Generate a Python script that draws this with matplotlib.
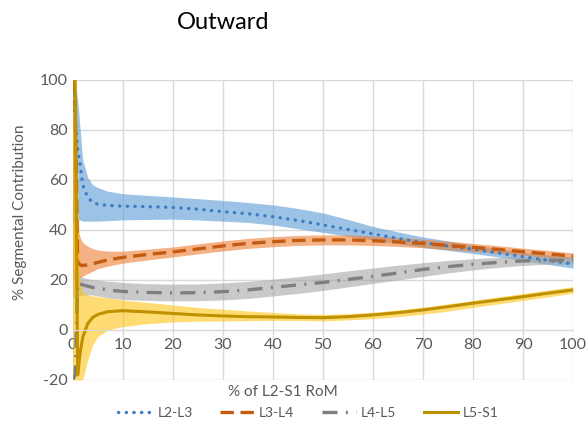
import matplotlib
matplotlib.use("Agg")
import matplotlib.pyplot as plt

plt.rcParams['font.family'] = ['Lato', 'DejaVu Sans']
plt.rcParams['axes.unicode_minus'] = False

# % of L2-S1 RoM
x = [0, 0.5, 1, 1.5, 2, 3, 4, 5, 7, 10, 15, 20, 25, 30, 35, 40, 45, 50,
     55, 60, 65, 70, 75, 80, 85, 90, 95, 100]

# L2-L3
l23 = [100, 85, 72, 66, 58, 53, 51, 50.3, 49.8, 49.5, 49.3, 49, 48.3, 47.3,
       46.5, 45.3, 43.8, 42, 40.2, 38.4, 36.6, 34.9, 33.6, 32.3, 30.8, 29.3, 27.8, 26.4]
l23_hi = [100, 100, 92, 80, 68, 61, 58, 57, 55.5, 54.5, 53.8, 53.2, 52.5, 51.8,
          51, 50, 48.6, 46.8, 44.2, 41.4, 39.2, 37.2, 35.6, 34, 32.5, 31, 30, 29]
l23_lo = [43, 43, 44, 44, 43.5, 43.5, 43.5, 43.5, 43.7, 44, 44.2, 44.3, 44, 43.5,
          43, 42, 40.5, 39, 37.5, 36, 34.5, 33, 31.8, 30.6, 29.2, 27.7, 26.2, 24.7]

# L3-L4
l34 = [100, 90, 27, 26, 25.8, 26, 26.5, 27, 28, 29, 30.2, 31.2, 32.4, 33.6,
       34.6, 35.3, 35.8, 36, 36, 35.7, 35.2, 34.6, 33.8, 33, 32.2, 31.3, 30.4, 29.5]
l34_hi = [100, 100, 40, 37, 35, 33.5, 32.5, 32, 31.5, 31.5, 32.3, 33.2, 34.4, 35.6,
          36.6, 37.3, 37.8, 38, 38, 37.6, 37, 36.3, 35.5, 34.6, 33.7, 32.7, 31.8, 30.8]
l34_lo = [20, 20, 20, 21, 21.5, 22.5, 23.5, 24.5, 25.5, 26.7, 28, 29.2, 30.4, 31.6,
          32.6, 33.3, 33.8, 34, 34, 33.8, 33.4, 32.9, 32.1, 31.4, 30.7, 29.9, 29, 28.2]

# L4-L5
l45 = [-20, -18, 19, 18.5, 18, 17.5, 17, 16.8, 16, 15.4, 15, 14.8, 14.9, 15.3,
       16, 17, 18, 19, 20.2, 21.4, 22.8, 24.2, 25.3, 26.3, 27, 27.6, 27.9, 27.8]
l45_hi = [23, 23, 22.5, 21.5, 21, 20.5, 20.2, 20, 19.5, 19, 18.5, 18.3, 18.4, 18.8,
          19.4, 20.3, 21.3, 22.4, 23.6, 24.8, 25.9, 26.9, 27.8, 28.5, 29, 29.4, 29.4, 29.2]
l45_lo = [13, 13, 13, 13.5, 14, 14, 14, 13.6, 12.8, 12.2, 11.8, 11.6, 11.7, 12,
          12.6, 13.6, 14.6, 15.8, 17.2, 18.6, 20, 21.4, 22.8, 24, 25, 25.8, 26.3, 26.3]

# L5-S1
l5s1 = [100, 100, -18, -9, -3, 2.5, 5, 6.2, 7.3, 7.7, 7.2, 6.6, 6, 5.6,
        5.3, 5.2, 5, 4.9, 5.3, 6, 6.9, 8, 9.3, 10.7, 12, 13.3, 14.7, 16]
l5s1_hi = [100, 100, 60, 20, 15, 14, 13.6, 13.3, 12.8, 12, 11, 10, 9, 8.3,
           7.6, 7, 6.5, 6.2, 6.5, 7.1, 8, 9.1, 10.4, 11.8, 13.2, 14.6, 16, 17.3]
l5s1_lo = [-20, -20, -20, -20, -20, -12, -6, -2.7, 0, 1.3, 2.5, 3.2, 3.5, 3.6,
           3.7, 3.8, 3.8, 3.6, 4, 4.5, 5.3, 6.3, 7.5, 9, 10.4, 11.8, 13.2, 14.7]

fig = plt.figure(figsize=(5.88, 4.25), dpi=100)
ax = fig.add_axes([0.1236, 0.106, 0.851, 0.706])

ax.fill_between(x, l23_lo, l23_hi, color='#5B9BD5', alpha=0.6, lw=0)
ax.fill_between(x, l34_lo, l34_hi, color='#ED7D31', alpha=0.6, lw=0)
ax.fill_between(x, l45_lo, l45_hi, color='#A5A5A5', alpha=0.6, lw=0)
ax.fill_between(x, l5s1_lo, l5s1_hi, color='#FFC000', alpha=0.55, lw=0)

ax.plot(x, l23, color='#3F7CC6', lw=2.4, linestyle=(0, (0.1, 2.2)),
        dash_capstyle='round', label='L2-L3')
ax.plot(x, l34, color='#C55A11', lw=2.4, linestyle=(0, (4, 2)), label='L3-L4')
ax.plot(x, l45, color='#7F7F7F', lw=2.4, linestyle=(0, (4.5, 2.5, 0.6, 2.5)),
        label='L4-L5')
ax.plot(x, l5s1, color='#BF9000', lw=2.2, label='L5-S1')

ax.set_xlim(0, 100)
ax.set_ylim(-20, 100)
ax.set_xticks(range(0, 101, 10))
ax.set_yticks(range(-20, 101, 20))
ax.grid(True, color='#D9D9D9', lw=1)
ax.set_axisbelow(True)
for s in ['top', 'right', 'left']:
    ax.spines[s].set_visible(False)
ax.spines['bottom'].set_position(('data', 0))
ax.spines['bottom'].set_color('#D9D9D9')
ax.tick_params(length=0, labelsize=11.5, labelcolor='#595959')
ax.tick_params(axis='x', pad=6)

fig.text(0.38, 0.948, 'Outward', fontsize=17, ha='center', va='center')
fig.text(0.481, 0.077, '% of L2-S1 RoM', fontsize=11, color='#595959',
         ha='center', va='center')
fig.text(0.034, 0.5, '% Segmental Contribution', fontsize=11, color='#595959',
         rotation=90, ha='center', va='center')

leg = fig.legend(loc='center', bbox_to_anchor=(0.525, 0.028), ncol=4,
                 frameon=False, fontsize=10, handlelength=2.4,
                 columnspacing=2.0, handletextpad=0.4)
for t in leg.get_texts():
    t.set_color('#595959')

fig.savefig('out.png', dpi=100)
